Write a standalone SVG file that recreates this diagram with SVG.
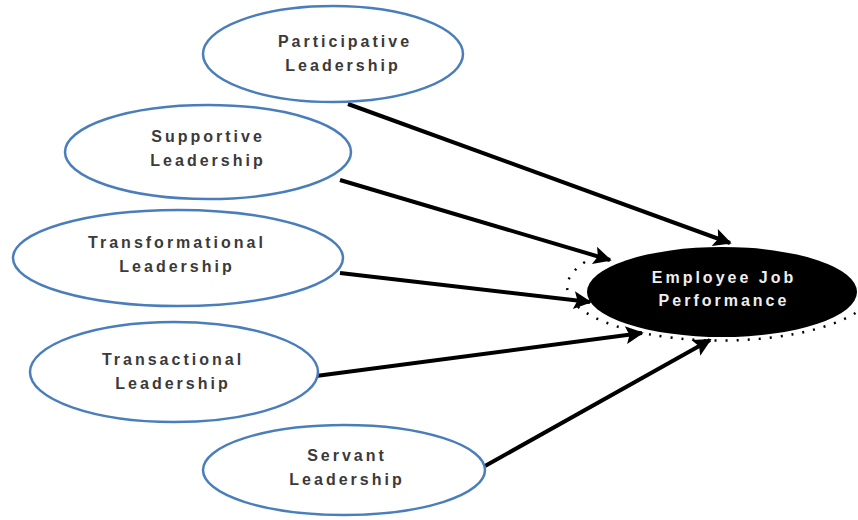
<svg xmlns="http://www.w3.org/2000/svg" width="858" height="520" viewBox="0 0 858 520">
<style>
.n{fill:#fff;stroke:#4a7ebb;stroke-width:2.5}
.t{font-family:"Liberation Sans",Arial,sans-serif;font-size:16px;font-weight:bold;fill:#3a3a3a;letter-spacing:3px;text-anchor:middle}
.w{font-family:"Liberation Sans",Arial,sans-serif;font-size:16px;font-weight:bold;fill:#eee;letter-spacing:3px;text-anchor:middle}
.c{stroke:#000;stroke-width:4;fill:none;marker-end:url(#ah)}
</style>
<defs>
<marker id="ah" viewBox="0 0 10 10" refX="9" refY="5" markerWidth="5" markerHeight="4.5" orient="auto" markerUnits="strokeWidth">
<path d="M0,0 L10,5 L0,10 L2,5 Z" fill="#000"/>
</marker>
</defs>
<rect width="858" height="520" fill="#fff"/>
<g id="connectors">
<line class="c" x1="348" y1="104" x2="730" y2="243"/>
<line class="c" x1="340" y1="180" x2="610" y2="260"/>
<line class="c" x1="340" y1="273" x2="590" y2="302"/>
<line class="c" x1="316" y1="376" x2="642" y2="333"/>
<line class="c" x1="485" y1="466" x2="710" y2="340"/>
</g>
<g id="participative">
<ellipse class="n" cx="333" cy="54" rx="130" ry="48"/>
<text class="t" x="345" y="47">Participative</text>
<text class="t" x="343" y="71">Leadership</text>
</g>
<g id="supportive">
<ellipse class="n" cx="208" cy="152" rx="143" ry="47"/>
<text class="t" x="208" y="142">Supportive</text>
<text class="t" x="208" y="166">Leadership</text>
</g>
<g id="transformational">
<ellipse class="n" cx="178" cy="258" rx="165" ry="48"/>
<text class="t" x="177" y="248">Transformational</text>
<text class="t" x="177" y="272">Leadership</text>
</g>
<g id="transactional">
<ellipse class="n" cx="174" cy="372" rx="144" ry="50"/>
<text class="t" x="173" y="365">Transactional</text>
<text class="t" x="173" y="389">Leadership</text>
</g>
<g id="servant">
<ellipse class="n" cx="344" cy="470" rx="141" ry="45"/>
<text class="t" x="347" y="461">Servant</text>
<text class="t" x="347" y="485">Leadership</text>
</g>
<g id="performance">
<path d="M585,262 A138,48 0 0 0 857,312" fill="none" stroke="#000" stroke-width="2.5" stroke-dasharray="2 9"/>
<ellipse cx="722" cy="292" rx="135" ry="45" fill="#000"/>
<text class="w" x="724" y="283">Employee Job</text>
<text class="w" x="724" y="306">Performance</text>
</g>
</svg>
